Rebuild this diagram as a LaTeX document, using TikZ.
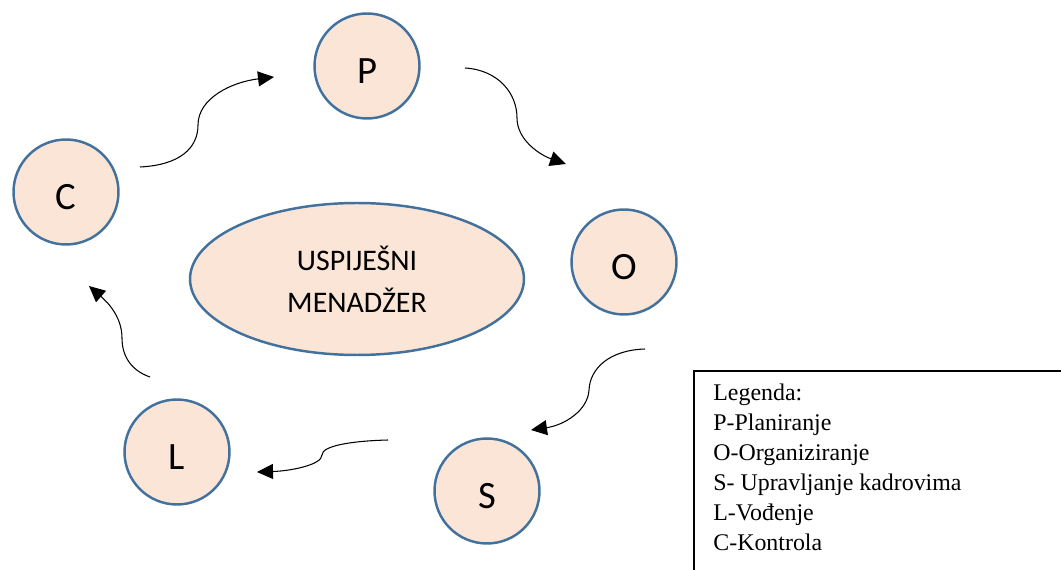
\documentclass[tikz,border=0pt]{standalone}
\usepackage{fontspec}
\setmainfont{Liberation Serif}
\newfontfamily\calibrifont{Carlito}
\usepackage{tikz}
\usetikzlibrary{arrows.meta,shapes}
\definecolor{Peach}{RGB}{251,229,214}
\definecolor{EdgeBlue}{RGB}{65,113,156}

\tikzset{
  phase/.style={circle, draw=EdgeBlue, fill=Peach, line width=1.4pt, minimum size=2.1cm, inner sep=0pt, text height=20pt, text depth=0pt, font=\calibrifont\fontsize{22}{24}\selectfont},
  centre/.style={ellipse, draw=EdgeBlue, fill=Peach, line width=1.4pt, minimum width=6.68cm, minimum height=3.04cm, align=center, font=\calibrifont\fontsize{17}{24}\selectfont},
  flow/.style={-{Triangle[length=3.2mm,width=3mm]}, line width=0.6pt, draw=black}
}

\begin{document}
\begin{tikzpicture}[x=0.02cm,y=-0.02cm]
    \useasboundingbox (0,0) rectangle (1061,570);

    \node[phase] (P) at (367,66) {P};
    \node[phase] (O) at (624,262) {O};
    \node[phase] (S) at (487,491) {S};
    \node[phase] (L) at (177,452) {L};
    \node[phase] (C) at (66,192) {C};

    \node[centre] (menadzer) at (357,279) {USPIJEŠNI\\MENADŽER};

    \coordinate (cpStart) at (140,167);  \coordinate (cpEnd) at (274,77);
    \coordinate (poStart) at (465,68);   \coordinate (poEnd) at (566,164);
    \coordinate (osStart) at (645,349);  \coordinate (osEnd) at (531,430);
    \coordinate (slStart) at (388,440);  \coordinate (slEnd) at (257,472);
    \coordinate (lcStart) at (150,377);  \coordinate (lcEnd) at (89,286);

    \draw[flow] (cpStart) .. controls (180,165) and (198,148) .. (198,125) .. controls (198,98) and (232,82) .. (cpEnd);
    \draw[flow] (poStart) .. controls (498,70) and (517,93) .. (517,118) .. controls (517,140) and (540,155) .. (poEnd);
    \draw[flow] (osStart) .. controls (610,350) and (590,368) .. (589,390) .. controls (588,410) and (565,425) .. (osEnd);
    \draw[flow] (slStart) .. controls (350,441) and (322,446) .. (322,455) .. controls (322,465) and (290,471) .. (slEnd);
    \draw[flow] (lcStart) .. controls (130,370) and (122,355) .. (122,338) .. controls (122,315) and (105,300) .. (lcEnd);

    % legenda
    \draw[line width=1.1pt] (1062,371) -- (694,371) -- (694,571);
    \node[anchor=north west, inner sep=0pt, align=left, font=\fontsize{13.6}{17}\selectfont] (legenda) at (713,384)
      {Legenda:\\P-Planiranje\\O-Organiziranje\\S- Upravljanje kadrovima\\L-Vođenje\\C-Kontrola};
\end{tikzpicture}
\end{document}
